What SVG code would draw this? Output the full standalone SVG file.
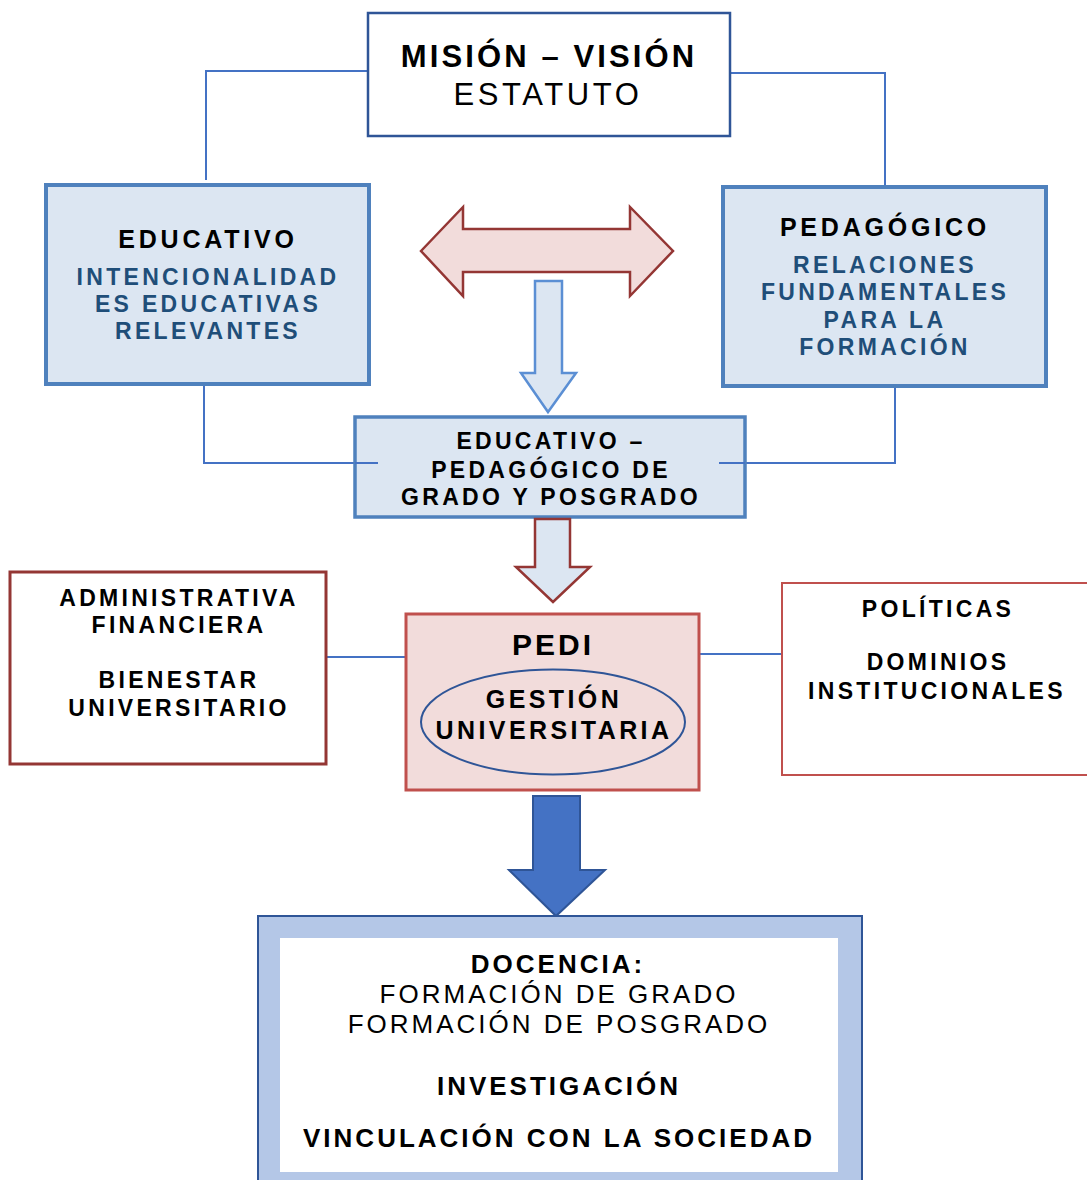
<svg xmlns="http://www.w3.org/2000/svg" width="1087" height="1180" viewBox="0 0 1087 1180">
<style>
text{font-family:"Liberation Sans",Arial,sans-serif;text-anchor:middle;fill:#000}
.b{font-weight:bold}
.blue{fill:#1F4E79;font-weight:bold;font-size:23px;letter-spacing:3.3px}
.conn{fill:none;stroke:#4472C4;stroke-width:2}
.bluebox{fill:#DCE6F2;stroke:#4F81BD;stroke-width:4}
.redbox{fill:#fff;stroke:#943634;stroke-width:3}
.t23{font-size:23px;letter-spacing:3.3px;font-weight:bold}
</style>
<rect width="1087" height="1180" fill="#fff"/>
<g id="connectors">
<polyline class="conn" points="367,71 206,71 206,180"/>
<polyline class="conn" points="731,73 885,73 885,186"/>
<polyline class="conn" points="204,386 204,463 378,463"/>
<polyline class="conn" points="895,388 895,463 719,463"/>
<line class="conn" x1="327" y1="657" x2="406" y2="657"/>
<line class="conn" x1="700" y1="654" x2="782" y2="654"/>
</g>
<g id="mision">
<rect x="368" y="13" width="362" height="123" fill="#fff" stroke="#2F5597" stroke-width="2.5"/>
<text x="549" y="67" class="b" font-size="31" letter-spacing="3.1">MISIÓN – VISIÓN</text>
<text x="548" y="105" font-size="31" letter-spacing="3.6">ESTATUTO</text>
</g>
<g id="educativo">
<rect class="bluebox" x="46" y="185" width="323" height="199"/>
<text x="208" y="248" class="b" font-size="25" letter-spacing="3.8">EDUCATIVO</text>
<text x="208" y="285" class="blue">INTENCIONALIDAD</text>
<text x="208" y="312" class="blue">ES EDUCATIVAS</text>
<text x="208" y="339" class="blue">RELEVANTES</text>
</g>
<g id="pedagogico">
<rect class="bluebox" x="723" y="187" width="323" height="199"/>
<text x="885" y="236" class="b" font-size="25" letter-spacing="3.8">PEDAGÓGICO</text>
<text x="885" y="273" class="blue">RELACIONES</text>
<text x="885" y="300" class="blue">FUNDAMENTALES</text>
<text x="885" y="328" class="blue">PARA LA</text>
<text x="885" y="355" class="blue">FORMACIÓN</text>
</g>
<g id="doble-flecha">
<polygon points="421,251 463,207 463,229 630,229 630,207 673,251 630,296 630,272 463,272 463,296" fill="#F2DCDB" stroke="#943634" stroke-width="2.5"/>
</g>
<g id="flecha-azul">
<polygon points="535,281 562,281 562,373 576,373 548,412 521,373 535,373" fill="#DCE6F2" stroke="#5B8FD4" stroke-width="2.5"/>
</g>
<g id="educativo-pedagogico">
<rect x="355" y="417" width="390" height="100" fill="#DCE6F2" stroke="#4F81BD" stroke-width="3.5"/>
<polyline class="conn" points="355,463 378,463"/>
<polyline class="conn" points="745,463 719,463"/>
<text x="551" y="449" class="t23" letter-spacing="3.8">EDUCATIVO –</text>
<text x="551" y="478" class="t23" letter-spacing="3.8">PEDAGÓGICO DE</text>
<text x="551" y="505" class="t23" letter-spacing="3.8">GRADO Y POSGRADO</text>
</g>
<g id="flecha-roja">
<polygon points="535,519 570,519 570,567 590,567 553,602 516,567 535,567" fill="#DCE6F2" stroke="#943634" stroke-width="2.5"/>
</g>
<g id="administrativa">
<rect class="redbox" x="10" y="572" width="316" height="192"/>
<text x="179" y="606" class="t23" letter-spacing="3.5">ADMINISTRATIVA</text>
<text x="179" y="633" class="t23" letter-spacing="3.5">FINANCIERA</text>
<text x="179" y="688" class="t23" letter-spacing="3.5">BIENESTAR</text>
<text x="179" y="716" class="t23" letter-spacing="3.5">UNIVERSITARIO</text>
</g>
<g id="pedi">
<rect x="406" y="614" width="293" height="176" fill="#F2DCDB" stroke="#C0504D" stroke-width="3"/>
<text x="553" y="655" class="b" font-size="30" letter-spacing="3">PEDI</text>
<ellipse cx="553" cy="722" rx="132" ry="52.5" fill="none" stroke="#2F5597" stroke-width="2"/>
<text x="554" y="708" class="b" font-size="25" letter-spacing="3.4">GESTIÓN</text>
<text x="554" y="739" class="b" font-size="25" letter-spacing="3.4">UNIVERSITARIA</text>
</g>
<g id="politicas">
<rect x="782" y="583" width="320" height="192" fill="#fff" stroke="#C0504D" stroke-width="2"/>
<text x="938" y="617" class="t23" letter-spacing="3.5">POLÍTICAS</text>
<text x="938" y="670" class="t23">DOMINIOS</text>
<text x="937" y="699" class="t23">INSTITUCIONALES</text>
</g>
<g id="flecha-grande">
<polygon points="533,796 580,796 580,870 605,870 556,916 509,870 533,870" fill="#4472C4" stroke="#2F5597" stroke-width="2"/>
</g>
<g id="funciones">
<rect x="258" y="916" width="604" height="280" fill="#B4C7E7" stroke="#2F5597" stroke-width="2"/>
<rect x="280" y="938" width="558" height="234" fill="#fff"/>
<text x="558" y="973" class="b" font-size="26" letter-spacing="3">DOCENCIA:</text>
<text x="559" y="1003" font-size="26" letter-spacing="3">FORMACIÓN DE GRADO</text>
<text x="559" y="1033" font-size="26" letter-spacing="3">FORMACIÓN DE POSGRADO</text>
<text x="559" y="1095" class="b" font-size="26" letter-spacing="3">INVESTIGACIÓN</text>
<text x="559" y="1147" class="b" font-size="26" letter-spacing="3">VINCULACIÓN CON LA SOCIEDAD</text>
</g>
</svg>
